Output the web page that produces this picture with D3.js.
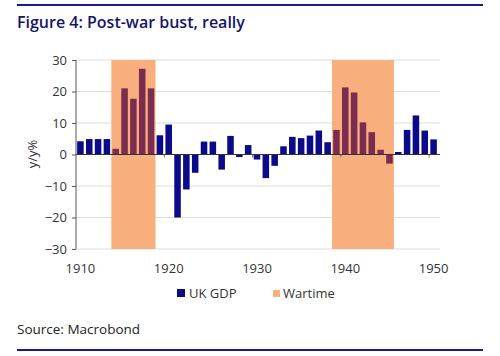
<!DOCTYPE html>
<html><head><meta charset="utf-8">
<script src="https://cdn.jsdelivr.net/npm/d3@7"></script>
<style>body{margin:0;background:#fff;}svg{display:block;font-family:"Open Sans","Noto Sans",sans-serif;}</style>
</head><body><svg id="c" width="500" height="356"></svg>
<script>
const years = d3.range(1910, 1951);
const gdp = [4.2,4.9,4.9,4.9,1.8,21.0,17.7,27.2,21.0,6.1,
             9.5,-20.0,-11.1,-5.8,4.1,4.1,-4.8,5.9,-0.8,3.0,
             -1.6,-7.5,-3.6,2.6,5.6,5.2,6.0,7.6,3.9,7.8,
             21.3,19.7,10.2,7.1,1.5,-2.9,0.8,7.8,12.4,7.6,4.8];
const wars = [[1914,1918],[1939,1945]];
const yTicks = [-30,-20,-10,0,10,20,30];
const xTicks = [1910,1920,1930,1940,1950];
const legendItems = ["UK GDP","Wartime"];

const navy = "#0b0b8a", shade = "#f9ae7d", warBar = "#7b2d4f", title = "#141470";
const svg = d3.select("#c");
const x = d3.scaleLinear().domain([1909.5,1950.5]).range([76,438]);
const y = d3.scaleLinear().domain([-30,30]).range([249,60]);
const isWar = yr => wars.some(w => yr>=w[0] && yr<=w[1]);

svg.append("line").attr("x1",17).attr("x2",483).attr("y1",5).attr("y2",5).attr("stroke","#1a1a8c").attr("stroke-width",2);
svg.append("line").attr("x1",17).attr("x2",483).attr("y1",350).attr("y2",350).attr("stroke","#1a1a8c").attr("stroke-width",2);
svg.append("text").attr("x",17).attr("y",28).attr("fill",title).attr("font-size",16).attr("font-weight",600)
  .attr("font-family","'Open Sans',sans-serif").text("Figure 4: Post-war bust, really");

// gridlines
svg.append("g").selectAll("line").data(yTicks).join("line")
  .attr("x1",76).attr("x2",440).attr("y1",d=>y(d)).attr("y2",d=>y(d)).attr("stroke","#dcdcdc").attr("stroke-width",1);

// shading
svg.append("g").selectAll("rect").data(wars).join("rect")
  .attr("x",d=>x(d[0]-0.5)).attr("width",d=>x(d[1]+0.5)-x(d[0]-0.5))
  .attr("y",y(30)).attr("height",y(-30)-y(30)).attr("fill",shade);

// bars
const bw = (x(1911)-x(1910))*0.74;
svg.append("g").selectAll("rect").data(years).join("rect")
  .attr("x",(d)=>x(d)-bw/2).attr("width",bw)
  .attr("y",(d,i)=>y(Math.max(0,gdp[i]))).attr("height",(d,i)=>Math.abs(y(gdp[i])-y(0)))
  .attr("fill",d=>isWar(d)?warBar:navy);

// zero line
svg.append("line").attr("x1",76).attr("x2",440).attr("y1",y(0)).attr("y2",y(0)).attr("stroke","#333").attr("stroke-width",1);
svg.append("g").selectAll("line").data(xTicks.slice(1)).join("line")
  .attr("x1",d=>x(d-0.5)).attr("x2",d=>x(d-0.5)).attr("y1",y(0)).attr("y2",y(0)+3).attr("stroke","#666");

// y axis
const ya = svg.append("g").attr("transform","translate(76,0)")
  .call(d3.axisLeft(y).tickValues(yTicks).tickSize(4).tickPadding(5).tickFormat(d3.format("d")));
ya.select(".domain").attr("stroke","#555").attr("d","M0,"+y(30)+"V"+y(-30));
ya.selectAll(".tick line").attr("stroke","#555");
ya.selectAll("text").attr("font-size",13).attr("fill","#333").attr("font-family","'Open Sans',sans-serif");

svg.append("text").attr("transform","translate(37,154) rotate(-90)").attr("text-anchor","middle")
  .attr("font-size",13).attr("fill","#333").text("y/y%");

// x labels
svg.append("g").selectAll("text").data(xTicks).join("text")
  .attr("x",d=>x(d)).attr("y",273).attr("text-anchor","middle").attr("font-size",13).attr("fill","#333").text(d=>d);

// legend
const lg = svg.append("g");
lg.append("rect").attr("x",177).attr("y",289).attr("width",8).attr("height",8).attr("fill",navy);
lg.append("text").attr("x",189).attr("y",298).attr("font-size",13).attr("fill","#333").text(legendItems[0]);
lg.append("rect").attr("x",273).attr("y",290).attr("width",7).attr("height",7).attr("fill",shade);
lg.append("text").attr("x",283).attr("y",298).attr("font-size",13).attr("fill","#333").text(legendItems[1]);

svg.append("text").attr("x",17).attr("y",334).attr("font-size",13.5).attr("fill","#222").text("Source: Macrobond");
</script></body></html>
